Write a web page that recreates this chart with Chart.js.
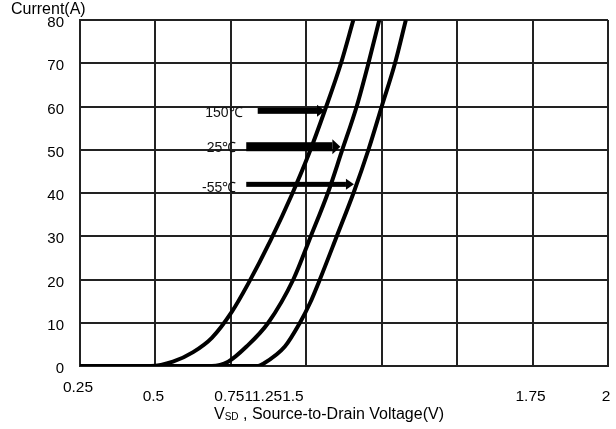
<!DOCTYPE html>
<html>
<head>
<meta charset="utf-8">
<script src="https://cdn.jsdelivr.net/npm/chart.js@4.4.1/dist/chart.umd.min.js"></script>
<style>
html,body{margin:0;padding:0;background:#fff;}
#wrap{width:616px;height:429px;position:relative;}
</style>
</head>
<body>
<div id="wrap"><canvas id="c" width="616" height="429"></canvas></div>
<script>
// ---- data ----
const xTickValues = [0.25, 0.5, 0.75, 1, 1.25, 1.5, 1.75, 2];
const xTickLabels = ["0.25", "0.5", "0.7511.251.5", "", "", "", "1.75", "2"];
const yTickValues = [0, 10, 20, 30, 40, 50, 60, 70, 80];

const seriesNames = ["150℃", "25℃", "-55℃"];

const x150 = [0.25, 0.485, 0.558, 0.625, 0.687, 0.753, 0.808, 0.882, 0.952, 1.010, 1.062, 1.115, 1.156];
const y150 = [0, 0, 1, 3.2, 6.5, 12.5, 19.1, 29.1, 39.6, 49.3, 59.2, 70, 80];

const x25 = [0.25, 0.687, 0.741, 0.802, 0.874, 0.957, 1.015, 1.073, 1.117, 1.167, 1.206, 1.242];
const y25 = [0, 0, 1, 4.5, 10, 20, 30, 40.3, 49.5, 60, 70, 80];

const xm55 = [0.25, 0.840, 0.857, 0.929, 0.979, 1.012, 1.045, 1.101, 1.158, 1.206, 1.250, 1.294, 1.330];
const ym55 = [0, 0, 0.5, 4.5, 10, 14.5, 20, 30, 40.3, 50, 60, 70, 80];

// annotation arrows (data coordinates)
const arrowStartX = [0.839, 0.801, 0.801];
const arrowEndX = [1.062, 1.113, 1.158];
const arrowY = [59.0, 50.7, 42.0];
const arrowLabelX = [0.789, 0.768, 0.768];
const arrowLabelY = [58.4, 50.4, 41.2];

const yTitle = "Current(A)";
const xTitleMain = "V";
const xTitleSub = "SD";
const xTitleRest = " , Source-to-Drain Voltage(V)";

// ---- build ----
function pts(xs, ys){ return xs.map((x,i)=>({x:x, y:ys[i]})); }
const FONT = "'Liberation Sans', Arial, sans-serif";
const arrowWidths = [6, 9, 5];

const overlay = {
  id: 'overlay',
  afterDatasetsDraw(chart){
    const ctx = chart.ctx, xs = chart.scales.x, ys = chart.scales.y;
    ctx.save();
    for (let i = 0; i < arrowY.length; i++){
      const x0 = xs.getPixelForValue(arrowStartX[i]);
      const x1 = xs.getPixelForValue(arrowEndX[i]);
      const y = ys.getPixelForValue(arrowY[i]);
      const w = arrowWidths[i];
      const hl = 8, hh = w/2 + 3;
      ctx.fillStyle = '#000';
      ctx.fillRect(x0, y - w/2, (x1 - hl) - x0, w);
      ctx.beginPath();
      ctx.moveTo(x1 - hl, y - hh);
      ctx.lineTo(x1, y);
      ctx.lineTo(x1 - hl, y + hh);
      ctx.closePath();
      ctx.fill();
      ctx.font = "14px " + FONT;
      ctx.textAlign = 'right';
      ctx.textBaseline = 'middle';
      ctx.fillStyle = '#111';
      ctx.fillText(seriesNames[i], xs.getPixelForValue(arrowLabelX[i]), ys.getPixelForValue(arrowLabelY[i]));
    }
    // y title
    ctx.font = "16px " + FONT;
    ctx.textAlign = 'left';
    ctx.textBaseline = 'middle';
    ctx.fillStyle = '#000';
    ctx.fillText(yTitle, 11, 10);
    // x title with subscript
    ctx.font = "16px " + FONT;
    const wMain = ctx.measureText(xTitleMain).width;
    ctx.font = "10px " + FONT;
    const wSub = ctx.measureText(xTitleSub).width;
    let tx = 214;
    const ty = 415;
    ctx.font = "16px " + FONT;
    ctx.fillText(xTitleMain, tx, ty); tx += wMain;
    ctx.font = "10px " + FONT;
    ctx.fillText(xTitleSub, tx, ty + 2); tx += wSub;
    ctx.font = "16px " + FONT;
    ctx.fillText(xTitleRest, tx, ty);
    ctx.restore();
  }
};

function ds(label, xs, ys){
  return {
    label: label,
    data: pts(xs, ys),
    borderColor: '#000',
    backgroundColor: '#000',
    borderWidth: 4,
    pointRadius: 0,
    cubicInterpolationMode: 'monotone',
    fill: false
  };
}

new Chart(document.getElementById('c'), {
  type: 'line',
  data: {
    datasets: [ds(seriesNames[0], x150, y150), ds(seriesNames[1], x25, y25), ds(seriesNames[2], xm55, ym55)]
  },
  options: {
    responsive: false,
    animation: false,
    devicePixelRatio: 1,
    layout: { padding: { top: 20, right: 8, left: 0, bottom: 0 } },
    plugins: { legend: { display: false }, tooltip: { enabled: false } },
    scales: {
      x: {
        type: 'linear',
        min: xTickValues[0],
        max: xTickValues[xTickValues.length - 1],
        afterBuildTicks(s){ s.ticks = xTickValues.map(v => ({value: v})); },
        afterFit(s){ s.height = 63; s.paddingRight = 0; s.paddingLeft = 0; },
        grid: { color: '#222', lineWidth: 2, drawTicks: false },
        border: { color: '#222', width: 2 },
        ticks: {
          padding: 17,
          labelOffset: -2,
          maxRotation: 0,
          autoSkip: false,
          color: '#000',
          font: { family: FONT, size: 15.5, lineHeight: 0.6 },
          callback(v){
            const i = xTickValues.findIndex(t => Math.abs(t - v) < 1e-6);
            if (i < 0) return '';
            if (i === 0) return xTickLabels[i];
            const lbl = (i === 2) ? '              ' + xTickLabels[i] : xTickLabels[i];
            return ['', lbl];
          }
        }
      },
      y: {
        type: 'linear',
        min: 0,
        max: 80,
        afterBuildTicks(s){ s.ticks = yTickValues.map(v => ({value: v})); },
        afterFit(s){ s.width = 80; s.paddingTop = 0; s.paddingBottom = 0; },
        grid: { color: '#222', lineWidth: 2, drawTicks: false },
        border: { color: '#222', width: 2 },
        ticks: {
          padding: 16,
          labelOffset: 3,
          color: '#000',
          font: { family: FONT, size: 15 },
          callback(v){ return String(v); }
        }
      }
    }
  },
  plugins: [overlay]
});
</script>
</body>
</html>
